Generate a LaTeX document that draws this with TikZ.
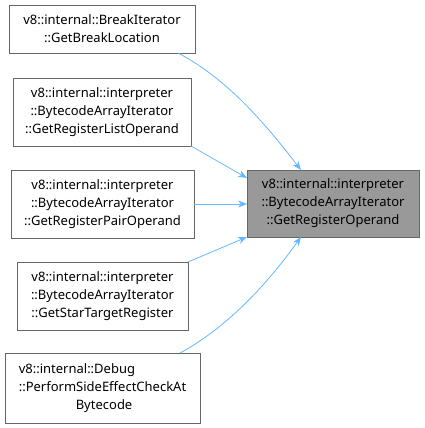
\documentclass[tikz,border=0pt]{standalone}
\usepackage{fontspec}
\setmainfont{Noto Sans}
\usetikzlibrary{arrows.meta}
\begin{document}
\begin{tikzpicture}[x=1pt,y=-1pt,
  box/.style={draw=black!60,fill=white,line width=0.8pt,inner sep=0pt,align=center,font=\fontsize{13}{18}\selectfont,text=black},
  target/.style={box,fill=black!40},
  edge/.style={color={rgb,255:red,99;green,184;blue,255},line width=0.8pt,-{Stealth[length=9pt,width=7pt]}}]
\useasboundingbox (0,0) rectangle (424,428);
\node[box,minimum width=186pt,minimum height=48pt] (a) at (102,29) {v8::internal::BreakIterator\\::GetBreakLocation};
\node[box,minimum width=178pt,minimum height=68pt] (b) at (102,112) {v8::internal::interpreter\\::BytecodeArrayIterator\\::GetRegisterListOperand};
\node[box,minimum width=183pt,minimum height=68pt] (c) at (102.5,204) {v8::internal::interpreter\\::BytecodeArrayIterator\\::GetRegisterPairOperand};
\node[box,minimum width=171pt,minimum height=68pt] (d) at (102.5,296) {v8::internal::interpreter\\::BytecodeArrayIterator\\::GetStarTargetRegister};
\node[box,align=left,minimum width=195pt,minimum height=70pt] (e) at (102.5,388) {v8::internal::Debug\\::PerformSideEffectCheckAt\\\hspace*{57pt}Bytecode};
\node[target,minimum width=172pt,minimum height=67pt] (t) at (333,203.5) {v8::internal::interpreter\\::BytecodeArrayIterator\\::GetRegisterOperand};
\coordinate (a1) at (178,53);
\coordinate (t1) at (301,170);
\coordinate (t2) at (247,178);
\coordinate (t3) at (247,204);
\coordinate (t4) at (247,237);
\coordinate (t5) at (301,237);
\coordinate (b1) at (191,146);
\coordinate (c1) at (194,204);
\coordinate (d1) at (188,262);
\coordinate (e1) at (180,353);
\draw[edge] (a1) .. controls (230,80) and (270,130) .. (t1);
\draw[edge] (b1) -- (t2);
\draw[edge] (c1) -- (t3);
\draw[edge] (d1) -- (t4);
\draw[edge] (e1) .. controls (230,326) and (270,280) .. (t5);
\end{tikzpicture}
\end{document}
